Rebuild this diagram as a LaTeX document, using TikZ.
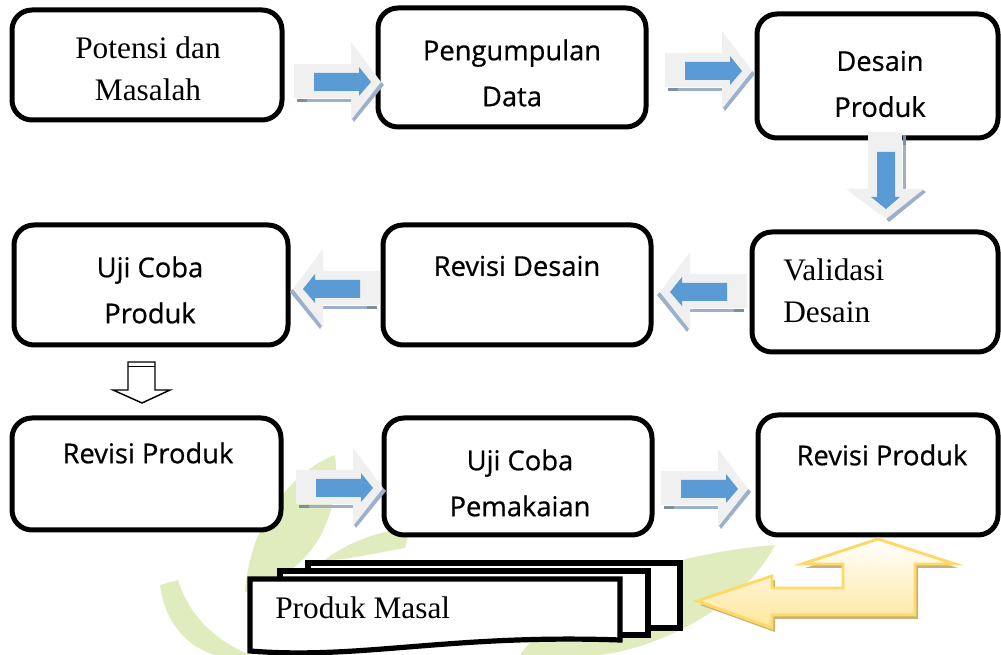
\documentclass[tikz,border=0pt]{standalone}
\usepackage{fontspec}
\setmainfont{Liberation Serif}
\newfontfamily\comicf[FakeBold=0.6]{Open Sans}
\definecolor{arrgray}{HTML}{F0F0F0}
\definecolor{arrblue}{HTML}{5B9BD5}
\definecolor{arrshadow}{HTML}{9CB0CB}
\definecolor{ylw}{HTML}{FFD966}
\definecolor{ylwfill}{HTML}{FFE699}
\definecolor{ylwshadow}{HTML}{C8B27C}
\definecolor{wmgreen}{HTML}{E1ECBE}
\tikzset{
  box/.style={draw=black, line width=3.75pt, rounded corners=15pt, fill=white, inner sep=0pt},
  serift/.style={font=\fontsize{23.5}{31.5}\selectfont, align=center, inner sep=0pt},
  comict/.style={font=\comicf\fontsize{20.5}{34.5}\selectfont, align=center, inner sep=0pt},
  docbox/.style={draw=black, line width=3.9pt, fill=white},
}
\newcommand\boxnode[5]{%
  \node[box, minimum width={(#4-#2)*0.75pt}, minimum height={(#5-#3)*0.75pt}]
    (#1) at ({(#2+#4)/2},{(#3+#5)/2}) {};}
\newcommand\grayarrow[4]{%
  \begin{scope}[shift={(#1,#2)}, x={#3}, y={#4}]
    \fill[arrshadow] (-84,17) rectangle (-30,20);
    \fill[arrshadow!80!black] (-84,17) rectangle (-74,20);
    \fill[arrshadow] (-30,35) -- (0,0) -- (3,3) -- (-27,40) -- cycle;
    \fill[arrgray] (-87,-18) -- (-30,-18) -- (-30,-40) -- (0,0) -- (-30,38) -- (-30,16) -- (-87,16) -- cycle;
    \fill[arrblue] (-67,-9) -- (-22,-9) -- (-22,-15) -- (-10,0) -- (-22,14) -- (-22,9) -- (-67,9) -- cycle;
  \end{scope}}
\begin{document}
\begin{tikzpicture}[x=0.75pt, y=-0.75pt]
\useasboundingbox (0,0) rectangle (1001,655);
\fill[white] (0,0) rectangle (1001,655);

% faint watermark
\begin{scope}[fill=wmgreen]
  \fill (245,592) .. controls (250,520) and (295,470) .. (335,455)
        .. controls (342,520) and (310,575) .. (245,592) -- cycle;
  \fill (160,585) .. controls (165,625) and (190,648) .. (215,655) -- (250,655)
        .. controls (210,638) and (188,612) .. (178,580) -- cycle;
  \fill (325,560) .. controls (350,540) and (385,530) .. (410,528) -- (405,548)
        .. controls (380,552) and (350,560) .. (325,560) -- cycle;
  \fill (520,655) .. controls (560,600) and (650,555) .. (775,545)
        .. controls (745,605) and (660,648) .. (600,655) -- cycle;
\end{scope}

% boxes
\boxnode{b1}{12}{10}{282}{120}
\boxnode{b2}{378}{8}{646}{127}
\boxnode{b3}{757}{14}{998}{138}
\boxnode{b4}{14}{225}{288}{345}
\boxnode{b5}{383}{225}{651}{345}
\boxnode{b6}{752}{232}{998}{352}
\boxnode{b7}{12}{418}{281}{530}
\boxnode{b8}{384}{418}{652}{535}
\boxnode{b9}{758}{415}{998}{535}

% texts
\node[serift] (t1) at (148,69) {Potensi dan\\Masalah};
\node[comict] (t2) at (512,73) {Pengumpulan\\Data};
\node[comict] (t3) at (880,84) {Desain\\Produk};
\node[comict] (t4) at (150,290) {Uji Coba\\Produk};
\node[comict] (t5) at (517,266) {Revisi Desain};
\node[serift, align=left, anchor=west] (t6) at (783,291) {Validasi\\Desain};
\node[comict] (t7) at (148,453) {Revisi Produk};
\node[comict] (t8) at (520,483) {Uji Coba\\Pemakaian};
\node[comict] (t9) at (882,455) {Revisi Produk};

% block arrows
\grayarrow{381}{82}{(0.75pt,0)}{(0,-0.75pt)}
\grayarrow{752}{71}{(0.75pt,0)}{(0,-0.75pt)}
\grayarrow{886}{219}{(0,-0.75pt)}{(0.75pt,0)}
\grayarrow{660}{292}{(-0.75pt,0)}{(0,-0.75pt)}
\grayarrow{293}{289}{(-0.75pt,0)}{(0,-0.75pt)}
\grayarrow{383}{488}{(0.75pt,0)}{(0,-0.75pt)}
\grayarrow{748}{489}{(0.75pt,0)}{(0,-0.75pt)}

% white outline down arrow
\draw[line width=1.1pt, fill=white] (128,362) -- (155,362) -- (155,390) -- (170,390)
  -- (142,403) -- (113,390) -- (128,390) -- cycle;
\draw[line width=1.1pt] (128,366.5) -- (155,366.5);

% yellow bent arrow
\fill[ylwshadow, shift={(3,4)}] (878,539) -- (955,564) -- (915,564) -- (915,615) -- (772,615)
  -- (772,628) -- (697,601) -- (772,576) -- (772,588) -- (843,588) -- (843,564)
  -- (802,564) -- cycle;
\draw[ylw, line width=2.2pt, line join=miter, top color=white, bottom color=ylwfill]
  (878,539) -- (955,564) -- (915,564) -- (915,615) -- (772,615)
  -- (772,628) -- (697,601) -- (772,576) -- (772,588) -- (843,588) -- (843,564)
  -- (802,564) -- cycle;

% stacked documents
\draw[docbox] (308,563) rectangle (680,628);
\draw[docbox] (280,571) rectangle (648,635);
\draw[docbox] (250,579) -- (620,579) -- (620,640)
  .. controls (450,634) and (360,660) .. (250,651) -- cycle;
\node[serift, anchor=west] (t10) at (275,608) {Produk Masal};
\end{tikzpicture}
\end{document}
